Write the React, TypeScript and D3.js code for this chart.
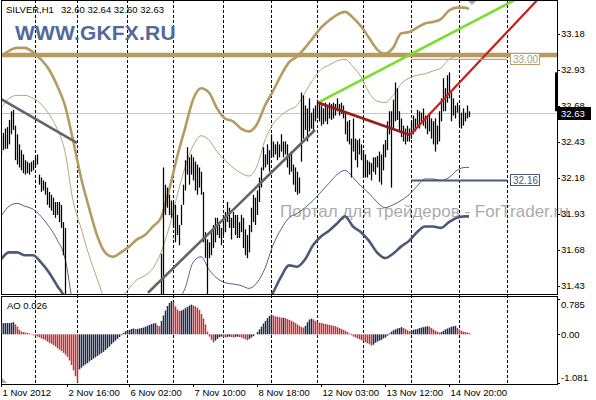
import React from 'react';
import * as d3 from 'd3';

const W = 596;
const H = 400;

// ---- price bars (H1), index 0 = first visible bar ----
const highs = [
  32.47,32.49,32.52,32.53,32.58,32.64,32.65,32.54,32.48,32.41,
  32.37,32.34,32.30,32.29,32.28,32.29,32.30,32.32,32.34,32.20,
  32.18,32.16,32.15,32.11,32.08,32.06,32.04,32.01,32.01,32.01,
  31.99,31.87,31.83,31.33,31.28,31.20,31.15,31.10,31.05,31.02,
  31.00,30.98,31.02,31.05,31.00,30.98,31.04,31.08,31.06,31.10,
  31.12,31.08,31.10,31.14,31.16,31.12,31.15,31.18,31.20,31.17,
  31.19,31.22,31.24,31.21,31.23,31.26,31.24,31.27,31.25,31.28,
  31.30,31.27,31.29,31.31,31.32,31.30,31.33,31.34,31.35,31.35,
  31.65,32.25,32.13,32.11,32.06,32.02,32.01,31.99,31.92,31.85,
  31.99,32.13,32.30,32.39,32.32,32.34,32.32,32.29,32.27,32.25,
  32.22,32.08,31.80,31.75,31.73,31.80,31.85,31.90,31.90,31.85,
  31.83,31.92,31.94,32.01,31.97,31.90,31.94,31.92,31.92,31.87,
  31.92,31.90,31.82,31.78,31.85,31.97,32.06,32.04,32.09,32.18,
  32.25,32.39,32.34,32.41,32.37,32.48,32.43,32.41,32.43,32.41,
  32.48,32.43,32.43,32.41,32.34,32.36,32.27,32.25,32.22,32.18,
  32.77,32.75,32.68,32.66,32.73,32.63,32.66,32.68,32.72,32.69,
  32.68,32.66,32.70,32.68,32.70,32.69,32.70,32.69,32.73,32.69,
  32.70,32.68,32.63,32.57,32.58,32.45,32.59,32.45,32.44,32.45,
  32.41,32.37,32.34,32.30,32.29,32.28,32.32,32.32,32.33,32.36,
  32.34,32.41,32.44,32.57,32.64,32.64,32.72,32.84,32.80,32.64,
  32.59,32.54,32.52,32.54,32.52,32.57,32.61,32.59,32.65,32.64,
  32.63,32.66,32.61,32.60,32.63,32.59,32.57,32.59,32.54,32.64,
  32.73,32.87,32.80,32.89,32.91,32.77,32.73,32.68,32.70,32.68,
  32.63,32.66,32.63,32.68,32.64,
];
const lows = [
  32.34,32.37,32.38,32.38,32.41,32.48,32.51,32.30,32.27,32.25,
  32.23,32.21,32.20,32.21,32.20,32.22,32.23,32.25,32.27,32.13,
  32.08,32.09,32.06,31.99,31.97,31.95,31.92,31.90,31.92,31.87,
  31.83,31.64,31.33,31.10,31.05,31.00,30.95,30.92,30.88,30.85,
  30.82,30.80,30.86,30.90,30.88,30.85,30.90,30.95,30.96,30.98,
  31.00,30.98,31.00,31.02,31.05,31.03,31.04,31.07,31.10,31.08,
  31.09,31.12,31.14,31.12,31.13,31.15,31.16,31.17,31.15,31.18,
  31.20,31.19,31.20,31.22,31.23,31.22,31.24,31.25,31.26,31.20,
  31.20,31.25,31.92,31.97,31.92,31.90,31.83,31.73,31.78,31.71,
  31.85,31.99,32.09,32.20,32.13,32.20,32.16,32.09,32.06,32.11,
  32.06,31.73,31.62,31.30,31.62,31.64,31.69,31.73,31.78,31.76,
  31.71,31.78,31.80,31.87,31.83,31.75,31.83,31.78,31.76,31.76,
  31.80,31.69,31.64,31.62,31.66,31.80,31.87,31.85,31.92,32.01,
  32.11,32.23,32.25,32.27,32.22,32.32,32.32,32.34,32.30,32.32,
  32.36,32.32,32.34,32.25,32.20,32.22,32.13,32.08,32.06,32.07,
  32.29,32.45,32.51,32.43,32.50,32.52,32.50,32.57,32.59,32.57,
  32.54,32.55,32.57,32.55,32.59,32.58,32.59,32.61,32.64,32.61,
  32.62,32.59,32.48,32.43,32.41,32.18,32.36,32.30,32.25,32.34,
  32.30,32.18,32.18,32.18,32.20,32.16,32.22,32.20,32.25,32.15,
  32.13,32.23,32.32,32.37,32.48,32.11,32.52,32.57,32.58,32.50,
  32.46,32.43,32.41,32.43,32.43,32.45,32.48,32.50,32.54,32.52,
  32.57,32.54,32.52,32.48,32.50,32.45,32.41,32.36,32.41,32.43,
  32.57,32.64,32.64,32.70,32.73,32.57,32.61,32.59,32.63,32.54,
  32.52,32.54,32.57,32.59,32.60,
];

// ---- Awesome Oscillator ----
const ao = [
  0.24,0.25,0.25,0.25,0.25,0.26,0.27,0.22,0.17,0.10,
  0.06,0.05,0.04,0.03,0.02,0.01,-0.02,-0.04,-0.05,-0.07,
  -0.09,-0.11,-0.13,-0.16,-0.19,-0.21,-0.24,-0.27,-0.31,-0.34,
  -0.37,-0.41,-0.45,-0.50,-0.58,-0.68,-0.80,-0.93,-1.06,-0.78,
  -0.74,-0.70,-0.67,-0.64,-0.60,-0.57,-0.54,-0.51,-0.48,-0.45,
  -0.42,-0.39,-0.35,-0.31,-0.27,-0.22,-0.18,-0.14,-0.10,-0.06,
  -0.02,0.03,0.07,0.09,0.10,0.12,0.13,0.12,0.12,0.13,
  0.14,0.15,0.17,0.19,0.21,0.23,0.24,0.25,0.20,0.18,
  0.30,0.42,0.53,0.63,0.70,0.74,0.72,0.62,0.55,0.52,
  0.53,0.55,0.58,0.61,0.64,0.66,0.64,0.62,0.59,0.54,
  0.45,0.35,0.22,0.06,-0.05,-0.12,-0.18,-0.14,-0.10,-0.06,
  -0.05,-0.06,-0.07,-0.06,-0.05,-0.06,-0.07,-0.06,-0.05,-0.06,
  -0.07,-0.09,-0.11,-0.13,-0.10,-0.07,-0.04,0.00,0.05,0.11,
  0.17,0.24,0.30,0.36,0.41,0.44,0.42,0.40,0.39,0.38,
  0.37,0.37,0.36,0.34,0.32,0.30,0.28,0.25,0.22,0.19,
  0.16,0.15,0.19,0.27,0.33,0.35,0.33,0.30,0.28,0.26,
  0.25,0.24,0.23,0.22,0.21,0.20,0.19,0.18,0.16,0.14,
  0.12,0.10,0.08,0.05,0.02,-0.02,-0.05,-0.07,-0.09,-0.11,
  -0.13,-0.15,-0.18,-0.20,-0.22,-0.25,-0.23,-0.19,-0.16,-0.14,
  -0.12,-0.09,-0.07,-0.03,0.02,0.06,0.09,0.11,0.13,0.14,
  0.16,0.14,0.12,0.09,0.07,0.08,0.10,0.11,0.12,0.14,
  0.15,0.16,0.17,0.18,0.17,0.14,0.11,0.08,0.06,0.04,
  0.05,0.08,0.11,0.13,0.15,0.17,0.18,0.19,0.14,0.11,
  0.08,0.06,0.05,0.04,0.026,
];

// ---- Bollinger-type bands, sampled at these bar indices ----
const bandIdx = [
  0,4,8,12,16,20,24,28,32,36,40,44,48,52,56,60,64,68,72,76,
  80,84,88,92,96,100,104,108,112,116,120,124,128,132,136,140,144,148,152,156,
  160,164,168,172,176,180,184,188,192,196,200,204,208,212,216,220,224,228,232,234,
];
const upperOuter = [
  33.02,33.06,33.08,33.08,33.05,33.00,32.93,32.82,32.68,32.44,
  32.18,31.97,31.78,31.66,31.63,31.66,31.70,31.75,31.78,31.84,
  31.90,32.09,32.32,32.52,32.72,32.80,32.77,32.66,32.59,32.57,
  32.52,32.50,32.55,32.68,32.78,32.89,32.98,33.02,33.08,33.15,
  33.22,33.27,33.31,33.33,33.29,33.23,33.15,33.07,33.04,33.08,
  33.18,33.19,33.22,33.25,33.26,33.28,33.34,33.36,33.36,33.35,
];
const upperInner = [
  32.66,32.73,32.75,32.75,32.73,32.69,32.62,32.52,32.36,32.02,
  31.83,31.64,31.48,31.33,31.26,31.34,31.41,31.47,31.50,31.55,
  31.66,31.83,32.05,32.25,32.40,32.47,32.44,32.36,32.30,32.25,
  32.21,32.19,32.26,32.44,32.55,32.61,32.65,32.68,32.77,32.86,
  32.93,32.96,32.99,33.00,32.95,32.88,32.77,32.71,32.70,32.75,
  32.83,32.87,32.89,32.90,32.92,32.94,33.00,33.02,33.02,33.02,
];
const lowerInner = [
  31.91,31.98,32.00,31.98,31.96,31.91,31.84,31.75,31.62,31.30,
  31.12,30.99,30.89,30.68,30.52,30.70,30.83,30.91,30.95,30.98,
  31.17,31.30,31.32,31.41,31.59,31.63,31.54,31.48,31.45,31.44,
  31.43,31.41,31.45,31.55,31.71,31.82,31.90,31.93,31.97,32.02,
  32.08,32.14,32.20,32.23,32.18,32.12,32.07,32.01,31.97,31.99,
  32.02,32.06,32.12,32.17,32.17,32.16,32.18,32.23,32.25,32.25,
];
const lowerOuter = [
  31.61,31.66,31.66,31.64,31.64,31.59,31.52,31.43,31.33,30.77,
  30.77,30.66,30.59,30.35,30.16,30.39,30.54,30.64,30.67,30.70,
  30.93,31.02,31.09,31.14,31.27,31.30,31.21,31.17,31.16,31.12,
  31.11,31.10,31.16,31.29,31.38,31.49,31.57,31.56,31.61,31.71,
  31.77,31.81,31.86,31.91,31.84,31.80,31.74,31.66,31.62,31.65,
  31.70,31.74,31.80,31.84,31.84,31.83,31.87,31.90,31.91,31.91,
];

// ---- trend lines: [barIndex, price] pairs ----
const grayTrend1 = [[-0.5, 32.73], [38, 32.42]];
const grayTrend2 = [[73.5, 31.38], [157, 32.51]];
const greenTrend = [[158.5, 32.70], [262, 33.45]];
const darkRedTrend = [[158.5, 32.70], [204.5, 32.475]];
const redTrend = [[204.5, 32.475], [270, 33.44]];

// ---- horizontal levels ----
const resistanceLevel = 33.03;
const objLevels = [33.00, 32.16];
const objLevelLabels = ['33.00', '32.16'];
const objStartIdx = 205;
const objEndIdx = 253;
const bidPrice = 32.63;
const barMarkerRange = [32.64, 32.91];

// ---- axes ----
const priceTicks = [33.18, 32.93, 32.68, 32.43, 32.18, 31.93, 31.68, 31.43];
const aoTicks = [0.785, 0.0, -1.081];
const aoTickLabels = ['0.785', '0.00', '-1.081'];
const timeIdx = [0, 33, 64, 96, 128, 160, 192, 224];
const timeLabels = ['1 Nov 2012', '2 Nov 16:00', '6 Nov 02:00', '7 Nov 10:00', '8 Nov 18:00', '12 Nov 03:00', '13 Nov 12:00', '14 Nov 20:00'];
const separatorIdx = [17, 38, 63, 86, 111, 135, 158, 181, 205, 229, 253];

const FONT = '"Liberation Sans", Arial, Helvetica, sans-serif';

export default function App() {
  const mainL = 1, mainR = 557, mainT = 0, mainB = 294;
  const aoT = 296, aoB = 384;

  const x = d3.scaleLinear().domain([0, 234]).range([1, 469]);
  const y = d3.scaleLinear().domain([31.43, 33.18]).range([285.5, 33.5]);
  const ya = d3.scaleLinear().domain([-1.081, 0.785]).range([383, 299]);

  const bandPath = (vals: number[]) =>
    d3.line<number>()
      .x((_, k) => x(bandIdx[k]))
      .y((v) => y(v))
      .curve(d3.curveMonotoneX)(vals) || '';
  const segPath = (pts: number[][]) =>
    d3.line<number[]>().x((p) => x(p[0])).y((p) => y(p[1]))(pts) || '';

  const px = (i: number) => Math.round(x(i)) + 0.5;

  const tan = '#b59a62';
  const tanThin = '#bca57a';
  const slate = '#4b5878';
  const slateThin = '#56648a';
  const aoUp = '#1c2a4c';
  const aoDown = '#d02a30';

  return (
    <svg width={W} height={H} viewBox={`0 0 ${W} ${H}`}
      style={{ position: 'absolute', left: 0, top: 0, background: '#fff', fontFamily: FONT }}>
      <defs>
        <clipPath id="mainClip">
          <rect x={mainL} y={mainT} width={mainR - mainL} height={mainB - mainT} />
        </clipPath>
        <clipPath id="aoClip">
          <rect x={mainL} y={aoT} width={mainR - mainL} height={aoB - aoT} />
        </clipPath>
      </defs>
      <rect x={0} y={0} width={W} height={H} fill="#fff" />

      {/* watermark */}
      <text x={280} y={217} fontSize={17} fill="#ababab" style={{ whiteSpace: 'pre' }}>
        Портал для трейдеров - ForTrader.ru
      </text>

      {/* period separators */}
      {separatorIdx.map((i) => (
        <line key={'sep' + i} x1={px(i)} x2={px(i)} y1={0} y2={aoB}
          stroke="#000" strokeWidth={1} strokeDasharray="3,2" shapeRendering="crispEdges" />
      ))}

      <g clipPath="url(#mainClip)">
        {/* bid line */}
        <line x1={mainL} x2={mainR} y1={Math.round(y(bidPrice)) + 0.5} y2={Math.round(y(bidPrice)) + 0.5}
          stroke="#c4c4c4" strokeWidth={1} shapeRendering="crispEdges" />

        {/* bands */}
        <path d={bandPath(upperInner)} fill="none" stroke={tanThin} strokeWidth={1} />
        <path d={bandPath(lowerInner)} fill="none" stroke={slateThin} strokeWidth={1} />
        <path d={bandPath(upperOuter)} fill="none" stroke={tan} strokeWidth={2.6} />
        <path d={bandPath(lowerOuter)} fill="none" stroke={slate} strokeWidth={2.6} />

        {/* price bars */}
        {highs.map((h, i) => (
          <line key={'b' + i} x1={x(i) + 0.5} x2={x(i) + 0.5} y1={y(h)} y2={y(lows[i])}
            stroke="#000" strokeWidth={1.25} />
        ))}

        {/* resistance band */}
        <line x1={mainL} x2={mainR} y1={y(resistanceLevel)} y2={y(resistanceLevel)} stroke={tan} strokeWidth={4.5} />

        {/* trend lines */}
        <path d={segPath(grayTrend1)} stroke="#646464" strokeWidth={2.6} fill="none" />
        <path d={segPath(grayTrend2)} stroke="#646464" strokeWidth={2.6} fill="none" />
        <path d={segPath(greenTrend)} stroke="#7ddc2c" strokeWidth={2.6} fill="none" />
        <path d={segPath(darkRedTrend)} stroke="#94201f" strokeWidth={2.8} fill="none" />
        <path d={segPath(redTrend)} stroke="#c81e1e" strokeWidth={2.2} fill="none" />

        {/* object levels */}
        <line x1={x(objStartIdx)} x2={x(objEndIdx)} y1={y(objLevels[0])} y2={y(objLevels[0])} stroke={tanThin} strokeWidth={1.2} />
        <line x1={x(objStartIdx)} x2={x(objEndIdx)} y1={y(objLevels[1])} y2={y(objLevels[1])} stroke={slate} strokeWidth={2} />
      </g>

      {/* object level labels */}
      {objLevels.map((v, k) => {
        const c = k === 0 ? '#b89e6c' : slate;
        const tc = k === 0 ? '#a89a80' : '#4b5878';
        const lx = x(objEndIdx) + 3.5;
        const ly = Math.round(y(v)) - 5.5;
        return (
          <g key={'ol' + k}>
            <rect x={lx} y={ly} width={29} height={11} fill="#fff" stroke={c} strokeWidth={1} shapeRendering="crispEdges" />
            <text x={lx + 2.5} y={ly + 9} fontSize={10} fill={tc}>{objLevelLabels[k]}</text>
          </g>
        );
      })}

      {/* chart-shift marker */}
      <polygon points="467,0 477,0 472,5" fill="#a8a8a8" />

      {/* header texts */}
      <text x={6} y={13} fontSize={9.5} fill="#000">SILVER,H1</text>
      <text x={61} y={13} fontSize={9.5} fill="#000">32.60 32.64 32.60 32.63</text>
      <text x={15} y={40} fontSize={21} fontWeight="bold" fill="#52699c" letterSpacing={0.2}>WWW.GKFX.RU</text>

      {/* panel frames */}
      <rect x={mainL + 0.5} y={mainT + 0.5} width={mainR - mainL} height={mainB - mainT} fill="none" stroke="#000" strokeWidth={1} shapeRendering="crispEdges" />
      <rect x={mainL + 0.5} y={aoT + 0.5} width={mainR - mainL} height={aoB - aoT} fill="none" stroke="#000" strokeWidth={1} shapeRendering="crispEdges" />

      {/* price axis */}
      {priceTicks.map((v) => (
        <g key={'pt' + v}>
          <line x1={mainR} x2={mainR + 3} y1={Math.round(y(v)) + 0.5} y2={Math.round(y(v)) + 0.5} stroke="#000" shapeRendering="crispEdges" />
          <text x={561} y={y(v) + 3.5} fontSize={9.5} fill="#000">{v.toFixed(2)}</text>
        </g>
      ))}
      <rect x={mainR - 2} y={y(barMarkerRange[1])} width={2} height={y(barMarkerRange[0]) - y(barMarkerRange[1])} fill="#000" />
      <rect x={mainR} y={Math.round(y(bidPrice)) - 6} width={34} height={13} fill="#000" />
      <text x={561} y={y(bidPrice) + 4} fontSize={9.5} fill="#fff">{bidPrice.toFixed(2)}</text>

      {/* AO panel */}
      <g clipPath="url(#aoClip)">
        {ao.map((v, i) => (
          <line key={'a' + i} x1={x(i) + 0.5} x2={x(i) + 0.5} y1={ya(0)} y2={ya(v)}
            stroke={i === 0 || v >= ao[i - 1] ? aoUp : aoDown} strokeWidth={1.5} />
        ))}
      </g>
      <polygon points="2,383 7,383 2,378" fill="#a8a8a8" />
      <text x={7} y={309} fontSize={9.5} fill="#000">AO 0.026</text>
      {aoTicks.map((v, k) => {
        const off = k === 0 ? 9 : k === 1 ? 3.5 : -2;
        return (
          <g key={'at' + k}>
            <line x1={mainR} x2={mainR + 3} y1={Math.round(ya(v)) + 0.5} y2={Math.round(ya(v)) + 0.5} stroke="#000" shapeRendering="crispEdges" />
            <text x={561} y={ya(v) + off} fontSize={9.5} fill="#000">{aoTickLabels[k]}</text>
          </g>
        );
      })}

      {/* time axis */}
      {timeIdx.map((i, k) => (
        <g key={'tl' + k}>
          <line x1={px(i)} x2={px(i)} y1={aoB} y2={aoB + 3} stroke="#000" shapeRendering="crispEdges" />
          <text x={x(i) + 1.5} y={396} fontSize={9.5} fill="#000">{timeLabels[k]}</text>
        </g>
      ))}
    </svg>
  );
}
